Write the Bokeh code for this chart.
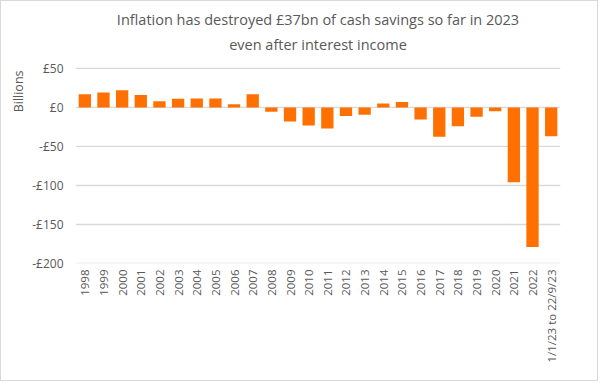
import math
from bokeh.plotting import figure
from bokeh.models import Title, FixedTicker, ColumnDataSource
from bokeh.embed import file_html
from bokeh.resources import INLINE

categories = ["1998", "1999", "2000", "2001", "2002", "2003", "2004", "2005",
              "2006", "2007", "2008", "2009", "2010", "2011", "2012", "2013",
              "2014", "2015", "2016", "2017", "2018", "2019", "2020", "2021",
              "2022", "1/1/23 to 22/9/23"]
values = [17, 19, 22, 16, 8, 11, 11.5, 11.5, 4, 17, -5.5, -18, -23, -27, -11,
          -9.5, 5, 7, -15.5, -37.5, -24, -12, -5, -96, -179, -37]
y_ticks = [50, 0, -50, -100, -150, -200]
y_tick_labels = ["£50", "£0", "-£50", "-£100", "-£150", "-£200"]
title_lines = ["Inflation has destroyed £37bn of cash savings so far in 2023",
               "even after interest income"]

FONT = "Open Sans"
GREY = "#595959"

src = ColumnDataSource(dict(cat=categories, val=values))

# frame extends a little above the £50 line so the titles sit at the right height
p = figure(width=598, height=381, x_range=categories, y_range=(-200, 64),
           output_backend="svg", toolbar_location=None,
           min_border_left=74, min_border_right=39, min_border_top=56,
           min_border_bottom=119)
p.styles = {"border": "1px solid #d9d9d9"}
p.outline_line_color = None
p.x_range.range_padding = 0

ticker = FixedTicker(ticks=y_ticks)
p.yaxis.ticker = ticker
p.ygrid.visible = False
p.xgrid.visible = False

# gridlines drawn as thin filled bands across the full category span
p.hbar(y=y_ticks, left=0, right=len(categories), height=1.7,
       fill_color="#d9d9d9", line_color=None)

p.vbar(x="cat", top="val", bottom=0, width=0.66, source=src,
       fill_color="#ff7000", line_color=None)

# titles: first added is closest to the plot
p.add_layout(Title(text=title_lines[1], align="center", text_font=FONT,
                   text_font_size="14.5px", text_font_style="normal",
                   text_color=GREY, standoff=8), "above")
p.add_layout(Title(text=title_lines[0], align="center", text_font=FONT,
                   text_font_size="14.5px", text_font_style="normal",
                   text_color=GREY, standoff=0), "above")

p.yaxis.major_label_overrides = {t: l for t, l in zip(y_ticks, y_tick_labels)}
p.yaxis.axis_line_color = None
p.yaxis.major_tick_line_color = None
p.yaxis.minor_tick_line_color = None
p.yaxis.major_tick_out = 0
p.yaxis.major_tick_in = 0
p.yaxis.major_label_standoff = 12
p.yaxis.major_label_text_font = FONT
p.yaxis.major_label_text_font_size = "12px"
p.yaxis.major_label_text_color = GREY

p.xaxis.axis_line_color = None
p.xaxis.major_tick_line_color = None
p.xaxis.major_tick_out = 0
p.xaxis.major_tick_in = 0
p.xaxis.major_label_standoff = 6
p.xaxis.major_label_orientation = math.pi / 2
p.xaxis.major_label_text_font = FONT
p.xaxis.major_label_text_font_size = "11.5px"
p.xaxis.major_label_text_color = GREY

p.add_layout(Title(text="Billions", align="right", offset=13, text_font=FONT,
                   text_font_size="12.5px", text_font_style="normal",
                   text_color=GREY, standoff=6), "left")

open("out.html", "w").write(file_html(p, INLINE))
